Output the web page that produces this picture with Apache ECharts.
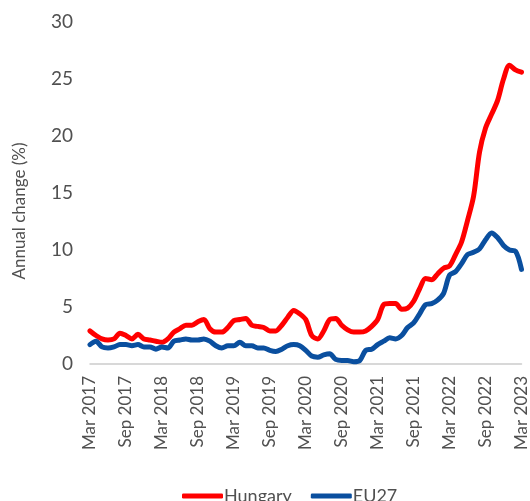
<!DOCTYPE html>
<html>
<head>
<meta charset="utf-8">
<script src="https://cdn.jsdelivr.net/npm/echarts@6/dist/echarts.min.js"></script>
<style>html,body{margin:0;padding:0;background:#fff}#c{width:530px;height:501px}</style>
</head>
<body>
<div id="c"></div>
<script>
var categories = [
'Mar 2017','Apr 2017','May 2017','Jun 2017','Jul 2017','Aug 2017','Sep 2017','Oct 2017','Nov 2017','Dec 2017','Jan 2018','Feb 2018',
'Mar 2018','Apr 2018','May 2018','Jun 2018','Jul 2018','Aug 2018','Sep 2018','Oct 2018','Nov 2018','Dec 2018','Jan 2019','Feb 2019',
'Mar 2019','Apr 2019','May 2019','Jun 2019','Jul 2019','Aug 2019','Sep 2019','Oct 2019','Nov 2019','Dec 2019','Jan 2020','Feb 2020',
'Mar 2020','Apr 2020','May 2020','Jun 2020','Jul 2020','Aug 2020','Sep 2020','Oct 2020','Nov 2020','Dec 2020','Jan 2021','Feb 2021',
'Mar 2021','Apr 2021','May 2021','Jun 2021','Jul 2021','Aug 2021','Sep 2021','Oct 2021','Nov 2021','Dec 2021','Jan 2022','Feb 2022',
'Mar 2022','Apr 2022','May 2022','Jun 2022','Jul 2022','Aug 2022','Sep 2022','Oct 2022','Nov 2022','Dec 2022','Jan 2023','Feb 2023',
'Mar 2023'];
var hungary = [
2.9,2.5,2.2,2.1,2.2,2.7,2.5,2.2,2.6,2.2,2.1,2.0,
1.9,2.2,2.8,3.1,3.4,3.4,3.7,3.9,3.1,2.8,2.8,3.2,
3.8,3.9,4.0,3.4,3.3,3.2,2.9,2.9,3.4,4.1,4.7,4.4,
3.9,2.5,2.2,2.9,3.9,4.0,3.4,3.0,2.8,2.8,2.9,3.3,
3.9,5.2,5.3,5.3,4.8,4.9,5.5,6.6,7.5,7.4,7.9,8.4,
8.6,9.6,10.7,12.6,14.7,18.6,20.7,21.9,23.1,25.0,26.2,25.8,
25.6];
var eu27 = [
1.7,2.0,1.5,1.4,1.5,1.7,1.7,1.6,1.7,1.5,1.5,1.3,
1.5,1.4,2.0,2.1,2.2,2.1,2.1,2.2,2.0,1.6,1.4,1.6,
1.6,1.9,1.6,1.6,1.4,1.4,1.2,1.1,1.3,1.6,1.7,1.6,
1.2,0.7,0.6,0.8,0.9,0.4,0.3,0.3,0.2,0.3,1.2,1.3,
1.7,2.0,2.3,2.2,2.5,3.2,3.6,4.4,5.2,5.3,5.6,6.2,
7.8,8.1,8.8,9.6,9.8,10.1,10.9,11.5,11.1,10.4,10.0,9.9,
8.3];
var yTicks = [0,5,10,15,20,25,30];
var seriesNames = ['Hungary','EU27'];

var FONT = "Lato, sans-serif";
var TXT = '#505050';
var chart = echarts.init(document.getElementById('c'), null, {renderer:'canvas'});
chart.setOption({
  animation:false,
  color:['#ff0000','#0a4f9f'],
  grid:{left:90, right:4, top:22, bottom:137, containLabel:false},
  legend:{
    data:seriesNames, left:177, top:482,
    icon:'roundRect', itemWidth:41, itemHeight:5, itemGap:19,
    textStyle:{fontFamily:FONT, fontSize:18, color:TXT, padding:[0,0,0,-4]}
  },
  graphic:[{
    type:'text', x:20, y:211, rotation:Math.PI/2,
    style:{text:'Annual change (%)', fontFamily:FONT, fontSize:17, fill:TXT, align:'center', verticalAlign:'middle'}
  }],
  xAxis:{
    type:'category', data:categories, boundaryGap:false,
    axisLine:{lineStyle:{color:'#cccccc', width:1.5}},
    axisTick:{show:false},
    axisLabel:{rotate:90, interval:5, margin:12, fontFamily:FONT, fontSize:17, color:TXT}
  },
  yAxis:{
    type:'value', min:yTicks[0], max:yTicks[yTicks.length-1], interval:5,
    axisLine:{show:false}, axisTick:{show:false}, splitLine:{show:false},
    axisLabel:{margin:17, fontFamily:FONT, fontSize:19, color:TXT}
  },
  series:[
    {name:seriesNames[0], type:'line', data:hungary, showSymbol:false, smooth:0.3, lineStyle:{width:5, cap:'round', join:'round'}},
    {name:seriesNames[1], type:'line', data:eu27, showSymbol:false, smooth:0.3, lineStyle:{width:5, cap:'round', join:'round'}}
  ]
});
</script>
</body>
</html>
